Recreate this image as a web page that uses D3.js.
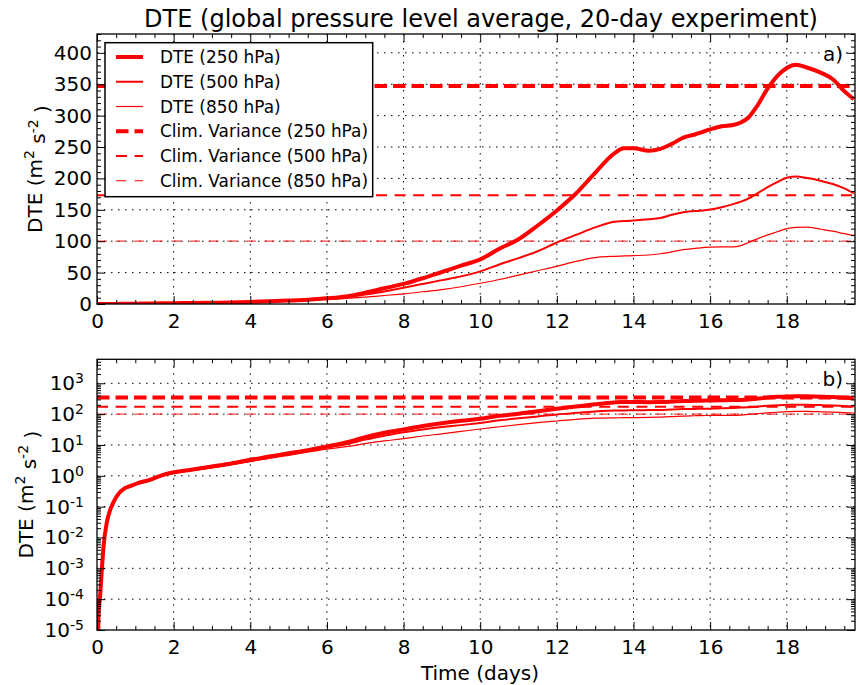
<!DOCTYPE html>
<html><head><meta charset="utf-8">
<script src="https://cdn.jsdelivr.net/npm/d3@7"></script>
<style>
body{margin:0;background:#fff}
svg{display:block}
text{font-family:"DejaVu Sans",sans-serif;fill:#000}
</style>
</head><body>
<svg id="chart" width="856" height="685"></svg>
<script>
// ---------------- data ----------------
const times = [0, 0.04, 0.08, 0.12, 0.17, 0.25, 0.34, 0.43, 0.56, 0.7,
  0.86, 1.1, 1.4, 1.65, 2, 2.5, 3, 3.5, 4, 4.5,
  5, 5.5, 6, 6.5, 7, 7.5, 8, 8.5, 9, 9.5,
  10, 10.5, 11, 11.5, 12, 12.5, 13, 13.5, 13.75, 14,
  14.4, 14.7, 15, 15.3, 15.6, 15.75, 16, 16.3, 16.6, 16.8,
  17, 17.2, 17.5, 17.75, 18, 18.25, 18.5, 18.9, 19.2, 19.5, 19.75];
const dte250 = [1e-8, 3e-5, 1.2e-4, 7e-4, 5e-3, 0.028, 0.076, 0.14, 0.26, 0.38,
  0.46, 0.6, 0.75, 1.0, 1.3, 1.6, 2.0, 2.5, 3.3, 4.2,
  5.4, 6.8, 9, 12, 18, 25, 32, 41, 51, 61,
  71, 88, 103, 125, 149, 176, 209, 240, 248, 248,
  244, 247, 255, 265, 270, 273, 278, 283, 285, 289,
  297, 313, 343, 363, 376, 381, 377, 368, 358, 339, 326];
const dte500 = [1e-8, 2.8e-5, 1.1e-4, 6.5e-4, 4.7e-3, 0.027, 0.073, 0.135, 0.25, 0.37,
  0.45, 0.58, 0.73, 0.97, 1.25, 1.55, 1.9, 2.4, 3.1, 4.0,
  5.1, 6.4, 8.3, 10.5, 15, 20, 26, 32, 38, 44,
  52, 63, 73, 84, 98, 110, 122, 131, 132, 133,
  135, 137, 142, 146, 148, 148.5, 150.5, 154, 159, 163,
  168, 175, 186, 194, 201, 203, 201, 196, 191, 184, 176];
const dte850 = [1e-8, 2.6e-5, 1.05e-4, 6.2e-4, 4.5e-3, 0.026, 0.07, 0.13, 0.24, 0.35,
  0.43, 0.55, 0.7, 0.93, 1.2, 1.5, 1.8, 2.3, 2.9, 3.7,
  4.6, 5.8, 7.3, 8.8, 11, 13.5, 16, 19.5, 23, 27.5,
  33, 39, 46, 53, 60, 68, 74, 76, 76.5, 77,
  78, 80, 83, 86.5, 88.5, 89.5, 90.5, 91, 91, 93,
  98, 103, 110, 115, 120, 122, 122.5, 119, 116, 112, 109];
const levels = ["250 hPa", "500 hPa", "850 hPa"];
const climVariance = [347, 173, 100];
const xTickValues = [0, 2, 4, 6, 8, 10, 12, 14, 16, 18];
const linTickValues = [0, 50, 100, 150, 200, 250, 300, 350, 400];
const logTickExponents = [-5, -4, -3, -2, -1, 0, 1, 2, 3];
const titleText = "DTE (global pressure level average, 20-day experiment)";
const xLabelText = "Time (days)";
const panelTags = ["a)", "b)"];

// ---------------- styles ----------------
const RED = "#ff0000";
const dteWidths = [4, 2, 1.2];
const climWidths = [4, 2, 1.2];
const climDash = ["12.5,6", "11,7.6", "10,8.6"];
const climOpacity = [1, 1, 0.75];

const series = [dte250, dte500, dte850].map((vals, i) =>
  times.map((t, j) => [t, vals[j]]));

// ---------------- layout ----------------
const svg = d3.select("#chart");
const L = 97, R = 855;
const x = d3.scaleLinear().domain([0, 19.78]).range([L, R]);
const panels = [
  {top: 34, bottom: 304, y: d3.scaleLinear().domain([0, 430]).range([304, 34]), log: false},
  {top: 359.3, bottom: 630, y: d3.scaleLog().domain([1e-5, 6000]).range([630, 359.3]), log: true}
];

svg.append("text").attr("x", 481).attr("y", 27).attr("text-anchor", "middle")
  .attr("font-size", "24px").text(titleText);

const xMinor = d3.range(0.5, 19.78, 0.5).filter(v => v % 2 !== 0);

panels.forEach((p, pi) => {
  const g = svg.append("g");
  const y = p.y;
  const clipId = "clip" + pi;
  svg.append("clipPath").attr("id", clipId).append("rect")
    .attr("x", L).attr("y", p.top).attr("width", R - L).attr("height", p.bottom - p.top);

  let yMajor, yMinor;
  if (p.log) {
    yMajor = logTickExponents.map(e => Math.pow(10, e));
    yMinor = [];
    logTickExponents.forEach(e => { for (let k = 2; k <= 9; k++) { const v = k * Math.pow(10, e); if (v < 6000) yMinor.push(v); } });
  } else {
    yMajor = linTickValues;
    yMinor = d3.range(10, 431, 10).filter(v => v % 50 !== 0);
  }

  // grid
  const grid = g.append("g").attr("stroke", "#000").attr("stroke-width", 1)
    .attr("stroke-dasharray", "1.5,5.5").attr("fill", "none");
  xTickValues.filter(v => v > 0).forEach(v => {
    grid.append("line").attr("x1", x(v)).attr("x2", x(v)).attr("y1", p.top).attr("y2", p.bottom);
  });
  yMajor.forEach(v => {
    const yy = y(v);
    if (yy < p.bottom - 1 && yy > p.top + 1)
      grid.append("line").attr("x1", L).attr("x2", R).attr("y1", yy).attr("y2", yy);
  });

  const plot = g.append("g").attr("clip-path", `url(#${clipId})`);
  // climatological variance lines
  climVariance.forEach((v, i) => {
    plot.append("line").attr("x1", L).attr("x2", R).attr("y1", y(v)).attr("y2", y(v))
      .attr("stroke", RED).attr("stroke-width", climWidths[i])
      .attr("stroke-opacity", climOpacity[i])
      .attr("stroke-dasharray", climDash[i]);
  });
  // DTE curves
  const line = d3.line().x(d => x(d[0])).y(d => y(Math.max(d[1], 1e-9)))
    .curve(d3.curveMonotoneX);
  series.forEach((s, i) => {
    plot.append("path").datum(s).attr("d", line).attr("fill", "none")
      .attr("stroke", RED).attr("stroke-width", dteWidths[i])
      .attr("stroke-linejoin", "round");
  });

  // frame
  g.append("rect").attr("x", L).attr("y", p.top).attr("width", R - L)
    .attr("height", p.bottom - p.top).attr("fill", "none")
    .attr("stroke", "#000").attr("stroke-width", 1.3);

  const styleAxis = sel => { sel.select(".domain").remove(); sel.selectAll("line").attr("stroke", "#000").attr("stroke-width", 1); };

  // x axes
  g.append("g").attr("transform", `translate(0,${p.bottom})`)
    .call(d3.axisBottom(x).tickValues(xTickValues).tickSize(-8).tickPadding(10).tickFormat(d3.format("d")))
    .call(styleAxis).selectAll("text").attr("font-size", "20px").attr("font-family", "DejaVu Sans");
  g.append("g").attr("transform", `translate(0,${p.bottom})`)
    .call(d3.axisBottom(x).tickValues(xMinor).tickSize(-4).tickFormat("")).call(styleAxis);
  g.append("g").attr("transform", `translate(0,${p.top})`)
    .call(d3.axisTop(x).tickValues(xTickValues).tickSize(-8).tickFormat("")).call(styleAxis);
  g.append("g").attr("transform", `translate(0,${p.top})`)
    .call(d3.axisTop(x).tickValues(xMinor).tickSize(-4).tickFormat("")).call(styleAxis);

  // y axes
  const yl = g.append("g").attr("transform", `translate(${L},0)`)
    .call(d3.axisLeft(y).tickValues(yMajor).tickSize(-8).tickPadding(p.log ? 13 : 5).tickFormat(p.log ? () => "" : d3.format("d")))
    .call(styleAxis);
  yl.selectAll("text").attr("font-size", "20px").attr("font-family", "DejaVu Sans");
  if (p.log) {
    yl.selectAll(".tick text").each(function (d) {
      const t = d3.select(this);
      t.append("tspan").text("10");
      t.append("tspan").attr("dy", "-0.5em").attr("font-size", "14px").text(Math.round(Math.log10(d)));
    });
  }
  g.append("g").attr("transform", `translate(${L},0)`)
    .call(d3.axisLeft(y).tickValues(yMinor).tickSize(-4).tickFormat("")).call(styleAxis);
  g.append("g").attr("transform", `translate(${R},0)`)
    .call(d3.axisRight(y).tickValues(yMajor).tickSize(-8).tickFormat("")).call(styleAxis);
  g.append("g").attr("transform", `translate(${R},0)`)
    .call(d3.axisRight(y).tickValues(yMinor).tickSize(-4).tickFormat("")).call(styleAxis);

  // y label
  const cy = (p.top + p.bottom) / 2;
  const lx = p.log ? 32.5 : 42;
  const lab = g.append("text").attr("transform", `translate(${lx},${cy}) rotate(-90)`)
    .attr("text-anchor", "middle").attr("font-size", "20px");
  lab.append("tspan").text("DTE (m");
  lab.append("tspan").attr("dy", "-0.55em").attr("font-size", "14px").text("2");
  lab.append("tspan").attr("dy", "0.55em").text(" s");
  lab.append("tspan").attr("dy", "-0.55em").attr("font-size", "14px").text("-2");
  lab.append("tspan").attr("dy", "0.55em").text(" )");

  // panel tag
  g.append("text").attr("x", 843).attr("y", p.top + 27).attr("text-anchor", "end")
    .attr("font-size", "20px").text(panelTags[pi]);
});

svg.append("text").attr("x", 480).attr("y", 680).attr("text-anchor", "middle")
  .attr("font-size", "20px").text(xLabelText);

// legend
const leg = svg.append("g");
leg.append("rect").attr("x", 105).attr("y", 42.7).attr("width", 267.7).attr("height", 154)
  .attr("fill", "#fff").attr("stroke", "#000").attr("stroke-width", 1.5);
const legItems = levels.map((lv, i) => ({label: `DTE (${lv})`, w: dteWidths[i], dash: null}))
  .concat(levels.map((lv, i) => ({label: `Clim. Variance (${lv})`, w: climWidths[i], dash: climDash[i]})));
legItems.forEach((it, i) => {
  const yy = 57 + i * 24.75;
  leg.append("line").attr("x1", 116).attr("x2", 143).attr("y1", yy).attr("y2", yy)
    .attr("stroke", RED).attr("stroke-width", it.w).attr("stroke-dasharray", it.dash);
  leg.append("text").attr("x", 160).attr("y", yy).attr("dy", "0.36em")
    .attr("font-size", "16.9px").text(it.label);
});
</script>
</body></html>
